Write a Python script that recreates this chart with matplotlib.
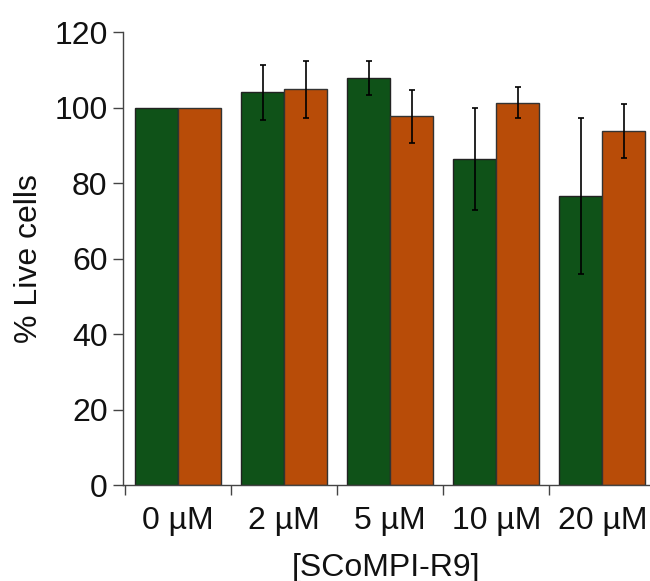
import matplotlib
matplotlib.use("Agg")
import matplotlib.pyplot as plt
import numpy as np

categories = ["0 µM", "2 µM", "5 µM", "10 µM", "20 µM"]
green_vals = [100, 104.0, 107.7, 86.4, 76.5]
green_err = [0, 7.3, 4.5, 13.5, 20.6]
orange_vals = [100, 104.8, 97.7, 101.3, 93.8]
orange_err = [0, 7.6, 7.0, 4.1, 7.1]
yticks = [0, 20, 40, 60, 80, 100, 120]

plt.rcParams['font.family'] = ['Liberation Sans', 'DejaVu Sans']

fig = plt.figure(figsize=(6.5, 5.81), dpi=100)
ax = fig.add_axes([0.189, 0.1652, 0.811, 0.7797])

x = np.arange(len(categories))
w = 0.405
green = '#0f5218'
orange = '#b84c08'
ekw = dict(elinewidth=1.2, capsize=2.5, capthick=1.2, ecolor='black')
ax.bar(x - w/2, green_vals, w, color=green, edgecolor='#222222', linewidth=1.0,
       yerr=[[e if e else np.nan for e in green_err], [e if e else np.nan for e in green_err]], error_kw=ekw)
ax.bar(x + w/2, orange_vals, w, color=orange, edgecolor='#333333', linewidth=1.0,
       yerr=[[e if e else np.nan for e in orange_err], [e if e else np.nan for e in orange_err]], error_kw=ekw)

fs = 23
ax.set_xlim(-0.52, 4.45)
ax.set_ylim(0, 120)
ax.set_yticks(yticks)
ax.set_xticks(x)
ax.set_xticklabels(categories)
ax.set_xticks(np.arange(len(categories)) - 0.5, minor=True)
ax.tick_params(axis='x', which='major', length=0, pad=15, labelsize=fs, labelcolor='#111111')
ax.tick_params(axis='x', which='minor', length=7, width=1, color='#444444', direction='out')
ax.tick_params(axis='y', length=7, width=1, color='#444444', labelsize=fs, pad=4, labelcolor='#111111')
for s in ['top', 'right']:
    ax.spines[s].set_visible(False)
for s in ['left', 'bottom']:
    ax.spines[s].set_color('#444444')
    ax.spines[s].set_linewidth(1)
ax.set_ylabel('% Live cells', fontsize=fs, labelpad=7, color='#111111')
ax.set_xlabel('[SCoMPI-R9]', fontsize=fs, labelpad=12, color='#111111')

fig.savefig('out.png', dpi=100)
